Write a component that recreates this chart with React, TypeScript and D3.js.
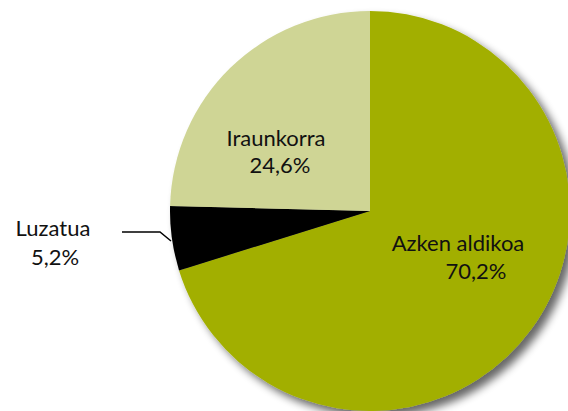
import React from "react";
import * as d3 from "d3";

const categories = ["Azken aldikoa", "Luzatua", "Iraunkorra"];
const values = [70.2, 5.2, 24.6];
const valueLabels = ["70,2%", "5,2%", "24,6%"];
const colors = ["#a2af00", "#000000", "#cfd595"];

const W = 568, H = 411;
const cx = 370, cy = 211, R = 200;

export default function App() {
  const pie = d3.pie<number>().sort(null).value((d) => d)(values);
  const arc = d3.arc<d3.PieArcDatum<number>>().innerRadius(0).outerRadius(R);
  const font = "Lato, 'Noto Sans', sans-serif";
  return (
    <svg width={W} height={H} style={{ position: "absolute", left: 0, top: 0 }}>
      <defs>
        <filter id="sh" x="-20%" y="-20%" width="140%" height="140%">
          <feGaussianBlur in="SourceAlpha" stdDeviation="4" />
          <feOffset dx="6" dy="6" result="b" />
          <feComponentTransfer>
            <feFuncA type="linear" slope="0.6" />
          </feComponentTransfer>
          <feMerge>
            <feMergeNode />
            <feMergeNode in="SourceGraphic" />
          </feMerge>
        </filter>
      </defs>
      <g transform={`translate(${cx},${cy})`}>
        <g filter="url(#sh)">
          {pie.map((p, i) => (
            <path key={categories[i]} d={arc(p) || ""} fill={colors[i]} />
          ))}
        </g>
      </g>
      <g fontFamily={font} fontSize={22} fill="#111" textAnchor="middle">
        <text x={276} y={146}>{categories[2]}</text>
        <text x={280} y={173}>{valueLabels[2]}</text>
        <text x={458} y={251}>{categories[0]}</text>
        <text x={476} y={279}>{valueLabels[0]}</text>
        <text x={53} y={236}>{categories[1]}</text>
        <text x={55} y={265}>{valueLabels[1]}</text>
      </g>
      <polyline points="122,232 160,232 171,241" fill="none" stroke="#000" strokeWidth={1.5} />
    </svg>
  );
}
